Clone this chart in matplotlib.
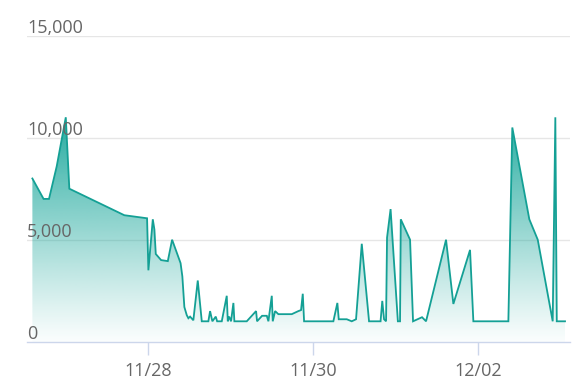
import matplotlib
matplotlib.use("Agg")
import matplotlib.pyplot as plt
import matplotlib.dates as mdates
import matplotlib.transforms as mtransforms
import numpy as np
import pandas as pd

# data
times = [
    "11-26 14:15", "11-26 17:30", "11-26 19:05", "11-26 21:20", "11-26 23:58",
    "11-27 01:00", "11-27 17:00", "11-27 23:37", "11-28 00:00", "11-28 01:17",
    "11-28 01:45", "11-28 02:09", "11-28 03:42", "11-28 05:39", "11-28 06:54",
    "11-28 09:22", "11-28 09:53", "11-28 10:28", "11-28 11:10", "11-28 11:38",
    "11-28 12:08", "11-28 13:05", "11-28 14:22", "11-28 15:32", "11-28 17:27",
    "11-28 17:57", "11-28 18:37", "11-28 19:36", "11-28 20:00", "11-28 21:21",
    "11-28 22:48", "11-28 23:06", "11-28 23:29", "11-29 00:03", "11-29 00:44",
    "11-29 01:01", "11-29 04:37", "11-29 07:20", "11-29 07:37", "11-29 09:05",
    "11-29 10:27", "11-29 10:55", "11-29 11:54", "11-29 12:11", "11-29 12:52",
    "11-29 13:49", "11-29 17:43", "11-29 19:38", "11-29 20:25", "11-29 20:55",
    "11-29 21:18", "11-30 05:49", "11-30 06:59", "11-30 07:23", "11-30 09:43",
    "11-30 11:10", "11-30 12:25", "11-30 14:05", "11-30 16:12", "11-30 19:33",
    "11-30 20:03", "11-30 20:34", "11-30 21:09", "11-30 21:26", "11-30 22:28",
    "12-01 00:35", "12-01 01:13", "12-01 01:26", "12-01 04:08", "12-01 05:00",
    "12-01 07:37", "12-01 08:47", "12-01 14:36", "12-01 16:44", "12-01 21:35",
    "12-01 22:33", "12-02 08:44", "12-02 09:53", "12-02 14:50", "12-02 17:17",
    "12-02 21:38", "12-02 22:24", "12-02 22:49", "12-03 01:13",
]
values = [
    8000, 7000, 7000, 8600, 11000,
    7500, 6200, 6050, 3500, 6000,
    5500, 4300, 4000, 3950, 5000,
    3850, 3200, 1700, 1300, 1150,
    1230, 1050, 3000, 1000, 1000,
    1500, 1000, 1230, 1000, 1000,
    2250, 1000, 1230, 1000, 1900,
    1000, 1000, 1500, 1000, 1270,
    1270, 1000, 2250, 1000, 1500,
    1350, 1350, 1500, 1550, 2350,
    1000, 1000, 1900, 1100, 1100,
    1000, 1100, 4800, 1000, 1000,
    2000, 1100, 1000, 5100, 6500,
    1000, 1000, 6000, 5000, 1000,
    1200, 1000, 5000, 1850, 4500,
    1000, 1000, 10500, 6000, 5000,
    1000, 11000, 1000, 1000,
]
y_ticks = [0, 5000, 10000, 15000]
x_ticks = ["2023-11-28", "2023-11-30", "2023-12-02"]
x_labels = ["11/28", "11/30", "12/02"]

x = mdates.date2num(pd.to_datetime(["2023-" + t for t in times]))
y = np.array(values)

teal = "#17a69a"
line_col = "#14a095"

fig = plt.figure(figsize=(5.87, 3.86), dpi=100)
ax = fig.add_axes([27 / 587, 1 - 341.7 / 386, 543 / 587, 306 / 386])

x0 = mdates.date2num(pd.Timestamp("2023-11-26 12:41"))
x1 = mdates.date2num(pd.Timestamp("2023-12-03 02:40"))
ax.set_xlim(x0, x1)
ax.set_ylim(0, 15000)

# gradient fill under the line
poly = ax.fill_between(x, y, 0, color="none", lw=0)
grad = np.linspace(0, 1, 256).reshape(-1, 1)
rgba = np.zeros((256, 1, 4))
rgba[..., :3] = matplotlib.colors.to_rgb(teal)
rgba[..., 3] = np.clip(grad * 15000 / 11500, 0, 1) ** 1.1 * 0.97 + 0.02
img = ax.imshow(rgba, extent=[x0, x1, 0, 15000], origin="lower",
                aspect="auto", zorder=1, interpolation="bilinear")
img.set_clip_path(poly.get_paths()[0], transform=ax.transData)

ax.plot(x, y, color=line_col, lw=1.3, zorder=3, solid_joinstyle="miter")

# grid
for v in y_ticks[1:]:
    ax.axhline(v, color="#e6e6e6", lw=1, zorder=0)

for s in ["top", "right", "left"]:
    ax.spines[s].set_visible(False)
ax.spines["bottom"].set_color("#ccd6eb")
ax.spines["bottom"].set_linewidth(1)
ax.spines["bottom"].set_zorder(4)

ax.set_yticks([])
ax.set_xticks(mdates.date2num(pd.to_datetime(x_ticks)))
ax.set_xticklabels(x_labels, fontsize=13, color="#666666", family="Open Sans")
ax.tick_params(axis="x", length=9, width=1, color="#ccd6eb", pad=5.5)

# y labels sit above their gridlines, left aligned
trans = mtransforms.blended_transform_factory(ax.transAxes, ax.transData)
off = mtransforms.offset_copy(trans, fig=fig, x=0, y=3, units="dots")
for v in y_ticks:
    ax.text(0, v, f"{v:,}", transform=off, ha="left", va="baseline",
            fontsize=13, color="#666666", family="Open Sans", zorder=5)

fig.savefig("out.png", dpi=100)
